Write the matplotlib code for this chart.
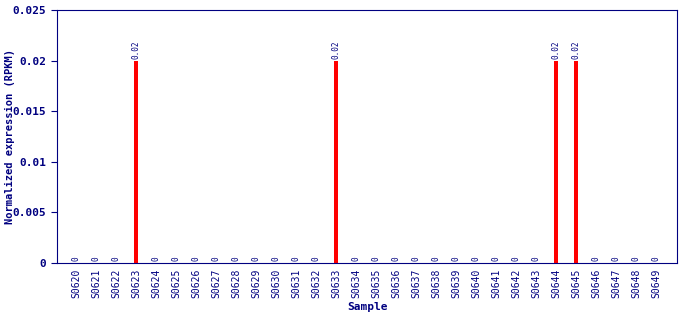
import matplotlib
matplotlib.use("Agg")
import matplotlib.pyplot as plt

samples = ["S%04d" % i for i in range(620, 650)]
values = [0, 0, 0, 0.02, 0, 0, 0, 0, 0, 0, 0, 0, 0, 0.02, 0, 0, 0, 0, 0, 0,
          0, 0, 0, 0, 0.02, 0.02, 0, 0, 0, 0]
labels = ["0.02" if v else "0" for v in values]

navy = "#000080"
plt.rcParams['font.family'] = ['DejaVu Sans Mono']
fig = plt.figure(figsize=(6.9, 3.2), dpi=100)
ax = fig.add_axes([57/690, 57/320, 620/690, 253/320])
x = list(range(len(samples)))
ax.bar(x, values, width=0.22, color="#ff0000")
for xi, v, lab in zip(x, values, labels):
    ax.text(xi, v + 0.0002, lab, rotation=90, ha="center", va="bottom",
            fontsize=5.5, color=navy)
ax.set_xlim(-0.95, 30.05)
ax.set_ylim(0, 0.025)
ax.set_yticks([0, 0.005, 0.01, 0.015, 0.02, 0.025])
ax.set_yticklabels(["0", "0.005", "0.01", "0.015", "0.02", "0.025"])
ax.set_xticks(x)
ax.set_xticklabels(samples, rotation=90)
ax.tick_params(axis='y', colors=navy, labelsize=8, length=4)
ax.tick_params(axis='x', colors=navy, labelsize=7, length=0, pad=4)
for lab in ax.get_yticklabels():
    lab.set_fontweight('bold')
for sp in ax.spines.values():
    sp.set_color(navy)
ax.set_xlabel("Sample", color=navy, fontsize=8, fontweight='bold', labelpad=3)
ax.set_ylabel("Normalized expression (RPKM)", color=navy, fontsize=7.5, fontweight='bold')
ax.yaxis.set_label_coords(-0.068, 0.5)
fig.savefig("out.png", dpi=100)
